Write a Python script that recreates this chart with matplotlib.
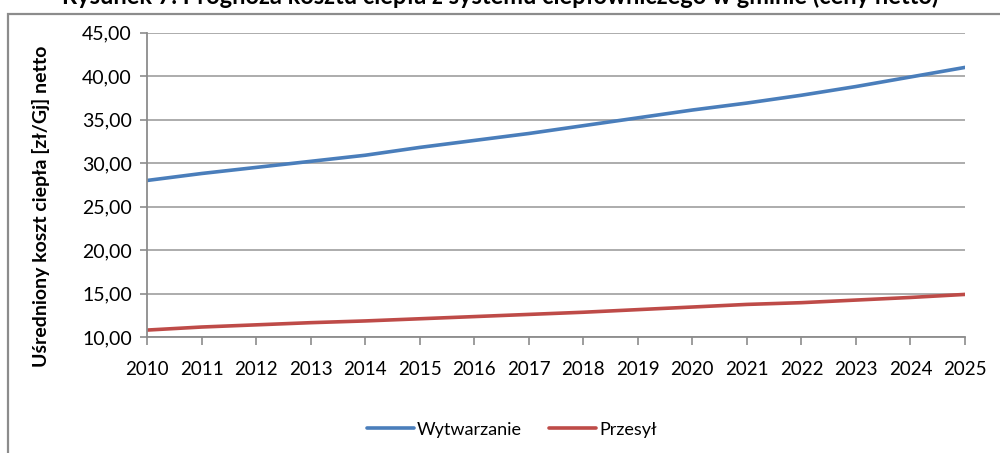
import matplotlib
matplotlib.use("Agg")
import matplotlib.pyplot as plt
from matplotlib.patches import Rectangle
from matplotlib.ticker import FuncFormatter

# data
years = list(range(2010, 2026))
wytwarzanie = [28.0, 28.8, 29.5, 30.2, 30.9, 31.8, 32.6, 33.4,
               34.3, 35.2, 36.1, 36.9, 37.8, 38.8, 39.9, 41.0]
przesyl = [10.8, 11.15, 11.4, 11.65, 11.85, 12.1, 12.35, 12.6,
           12.85, 13.15, 13.45, 13.75, 13.95, 14.25, 14.55, 14.9]
series_names = ["Wytwarzanie", "Przesył"]
y_ticks = [10, 15, 20, 25, 30, 35, 40, 45]

plt.rcParams['font.family'] = ['Lato', 'DejaVu Sans']

fig = plt.figure(figsize=(10, 4.53), dpi=100)
ax = fig.add_axes([0.147, 0.256, 0.818, 0.672])

# frame around the chart, cut off at right and bottom like the screenshot
fig.patches.append(Rectangle((0.008, -0.1), 1.2, 0.1 + 1 - 14 / 453,
                             transform=fig.transFigure, fill=False,
                             edgecolor="#8c8c8c", linewidth=1.6))

# title, mostly cut off at the top edge
fig.text(0.5, 1 - 4 / 453, "Rysunek 7. Prognoza kosztu ciepła z systemu ciepłowniczego w gminie (ceny netto)",
         ha="center", va="baseline", fontsize=17, fontweight="bold", color="black")

ax.plot(years, wytwarzanie, color="#4A7EBB", linewidth=2.6, label=series_names[0],
        solid_capstyle="round")
ax.plot(years, przesyl, color="#BE4B48", linewidth=2.6, label=series_names[1],
        solid_capstyle="round")

ax.set_xlim(2010, 2025)
ax.set_ylim(10, 45)
ax.set_xticks(years)
ax.set_yticks(y_ticks)
ax.yaxis.set_major_formatter(FuncFormatter(lambda v, p: f"{v:.2f}".replace(".", ",")))
ax.grid(axis="y", color="#a6a6a6", linewidth=1.3)
ax.set_axisbelow(True)

for s in ["top", "right"]:
    ax.spines[s].set_visible(False)
for s in ["left", "bottom"]:
    ax.spines[s].set_color("#8c8c8c")
    ax.spines[s].set_linewidth(1.3)

ax.tick_params(axis="x", length=6, width=1.2, color="#8c8c8c", labelsize=13.5, pad=11)
ax.tick_params(axis="y", length=5, width=1.2, color="#8c8c8c", labelsize=14, pad=6)

ax.set_ylabel("Uśredniony koszt ciepła [zł/Gj] netto", fontsize=14, fontweight="bold")
ax.yaxis.set_label_coords(-0.119, 0.43)

ax.legend(loc="upper center", bbox_to_anchor=((512 - 147) / 818, -0.225), ncol=2,
          frameon=False, fontsize=13, handlelength=2.6, handletextpad=0.2,
          columnspacing=1.5)

fig.savefig("out.png", dpi=100)
